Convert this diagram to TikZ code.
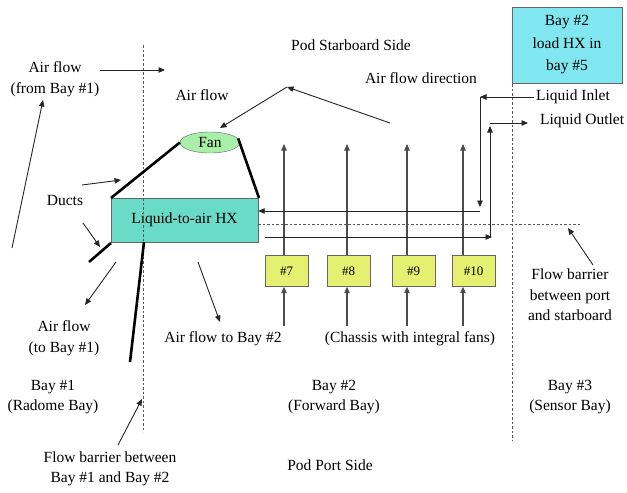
\documentclass[tikz,border=0pt]{standalone}
\usepackage{fontspec}
\setmainfont{Liberation Serif}
\usetikzlibrary{arrows.meta,shapes.geometric}

\definecolor{hxteal}{HTML}{6ADBC6}
\definecolor{loadcyan}{HTML}{80E6F0}
\definecolor{fangreen}{HTML}{A8F0A8}
\definecolor{chassisyellow}{HTML}{E6F070}

\tikzset{
  lbl/.style={font=\fontsize{15.5}{20.5}\selectfont, text=black, align=center, inner sep=0pt},
  flow/.style={draw=black!85, line width=0.9pt, -{Triangle[length=6.5pt,width=5.5pt]}},
  fanflow/.style={draw=black!70, line width=1.1pt, -{Triangle[length=6.5pt,width=5.5pt]}},
  duct/.style={draw=black, line width=2.6pt},
  barrier/.style={draw=black!65, line width=1pt, dash pattern=on 2.5pt off 2pt},
  chassisbox/.style={draw=black!60, fill=chassisyellow, minimum width=43pt, minimum height=31pt,
    inner sep=0pt, text=black, font=\fontsize{13}{15}\selectfont},
}

\begin{document}
\begin{tikzpicture}[x=1pt,y=-1pt]
\useasboundingbox (0,0) rectangle (627,493);

% ---- boxes ----
\node[draw=black!60, fill=loadcyan, minimum width=110pt, minimum height=76pt, inner sep=0pt,
      lbl, font=\fontsize{15.5}{22.5}\selectfont] (loadhx) at (567,45) {Bay \#2\\load HX in\\bay \#5};
\node[draw=black!60, fill=hxteal, minimum width=147pt, minimum height=44pt, inner sep=0pt, lbl]
      (hx) at (184.5,220) {Liquid-to-air HX};
\node[ellipse, draw=black!60, fill=fangreen, minimum width=60pt, minimum height=21pt, inner sep=0pt, lbl]
      (fan) at (210,142.5) {Fan};
\node[chassisbox] (c7)  at (286.5,271) {\#7};
\node[chassisbox] (c8)  at (348.5,271) {\#8};
\node[chassisbox] (c9)  at (413.5,271) {\#9};
\node[chassisbox] (c10) at (473.5,271) {\#10};

% ---- flow barriers ----
\coordinate (b1top) at (143,45);   \coordinate (b1bot) at (143,432);
\coordinate (b2top) at (512,84);   \coordinate (b2bot) at (512,440);
\coordinate (hbend) at (582,224);
\draw[barrier] (b1top) -- (b1bot);
\draw[barrier] (b2top) -- (b2bot);
\draw[barrier] (hx.east |- hbend) -- (hbend);

% ---- ducts ----
\coordinate (dul) at (111,198);  \coordinate (dur) at (259,198);
\coordinate (dll1) at (89,262);  \coordinate (dll2) at (111,243);
\coordinate (dlr1) at (144,242); \coordinate (dlr2) at (130,362);
\draw[duct] (dul) -- (fan.west);
\draw[duct] ([yshift=4pt]fan.east) ++(-2,0) -- (dur);
\draw[duct] (dll1) -- (dll2);
\draw[duct] (dlr1) -- (dlr2);

% ---- labels ----
\node[lbl] (airfrom)  at (55,79)   {Air flow\\(from Bay \#1)};
\node[lbl] (airflow)  at (202,95)  {Air flow};
\node[lbl] (starb)    at (351,45)  {Pod Starboard Side};
\node[lbl] (afdir)    at (421,78)  {Air flow direction};
\node[lbl, anchor=west] (inlet)  at (536,97)  {Liquid Inlet};
\node[lbl, anchor=west] (outlet) at (540,121) {Liquid Outlet};
\node[lbl] (ducts)    at (65,200)  {Ducts};
\node[lbl] (airto)    at (64,338)  {Air flow\\(to Bay \#1)};
\node[lbl] (bay1)     at (53,397)  {Bay \#1\\(Radome Bay)};
\node[lbl] (barr12)   at (110,469) {Flow barrier between\\Bay \#1 and Bay \#2};
\node[lbl] (airto2)   at (223,339) {Air flow to Bay \#2};
\node[lbl] (chassis)  at (410,339) {(Chassis with integral fans)};
\node[lbl] (bay2)     at (334,397) {Bay \#2\\(Forward Bay)};
\node[lbl] (port)     at (330,465) {Pod Port Side};
\node[lbl] (bay3)     at (570,397) {Bay \#3\\(Sensor Bay)};
\node[lbl] (barrps)   at (570,295) {Flow barrier\\between port\\and starboard};

% ---- air flow arrows ----
\coordinate (fromA) at (100,70);  \coordinate (fromB) at (165,70);
\draw[flow] (fromA) -- (fromB);
\coordinate (upA) at (12,248);    \coordinate (upB) at (43,100);
\draw[flow] (upA) -- (upB);
\coordinate (apex) at (287,87);   \coordinate (dirtail) at (390,123);
\coordinate (fantop) at (220,128);
\draw[flow] (dirtail) -- (apex);
\draw[flow] (apex) -- (fantop);
\coordinate (duA) at (82,185);    \coordinate (duB) at (121,180);
\draw[flow] (duA) -- (duB);
\coordinate (ddA) at (83,223);    \coordinate (ddB) at (100,247);
\draw[flow] (ddA) -- (ddB);
\coordinate (toA) at (116,262);   \coordinate (toB) at (85,305);
\draw[flow] (toA) -- (toB);
\coordinate (fbA) at (118,445);   \coordinate (fbB) at (142,399);
\draw[flow] (fbA) -- (fbB);
\coordinate (t2A) at (198,262);   \coordinate (t2B) at (220,322);
\draw[flow] (t2A) -- (t2B);
\coordinate (psA) at (593,265);   \coordinate (psB) at (568,228);
\draw[flow] (psA) -- (psB);

% ---- chassis air paths ----
\foreach \c/\x in {c7/284, c8/347, c9/407, c10/463} {
  \coordinate (\c bot) at (\x,326);
  \coordinate (\c top) at (\x,144);
  \draw[fanflow] (\c bot) -- (\c bot |- \c.south);
  \draw[fanflow] (\c bot |- \c.north) -- (\c top);
}

% ---- liquid loop ----
\coordinate (in1) at (480,97);  \coordinate (in2) at (480,207); \coordinate (in3) at (480,211);
\draw[flow] ([xshift=-2pt]inlet.west) -- (in1);
\draw[flow] (in1) -- (in2);
\draw[flow] (in3) -- (hx.east |- in3);
\coordinate (out0) at (265,237); \coordinate (out1) at (492,237);
\coordinate (out2) at (490,237); \coordinate (out3) at (490,126);
\coordinate (out4) at (490,123); \coordinate (out5) at (528,123);
\draw[flow] (out0) -- (out1);
\draw[flow] (out2) -- (out3);
\draw[flow] (out4) -- (out5);
\end{tikzpicture}
\end{document}
